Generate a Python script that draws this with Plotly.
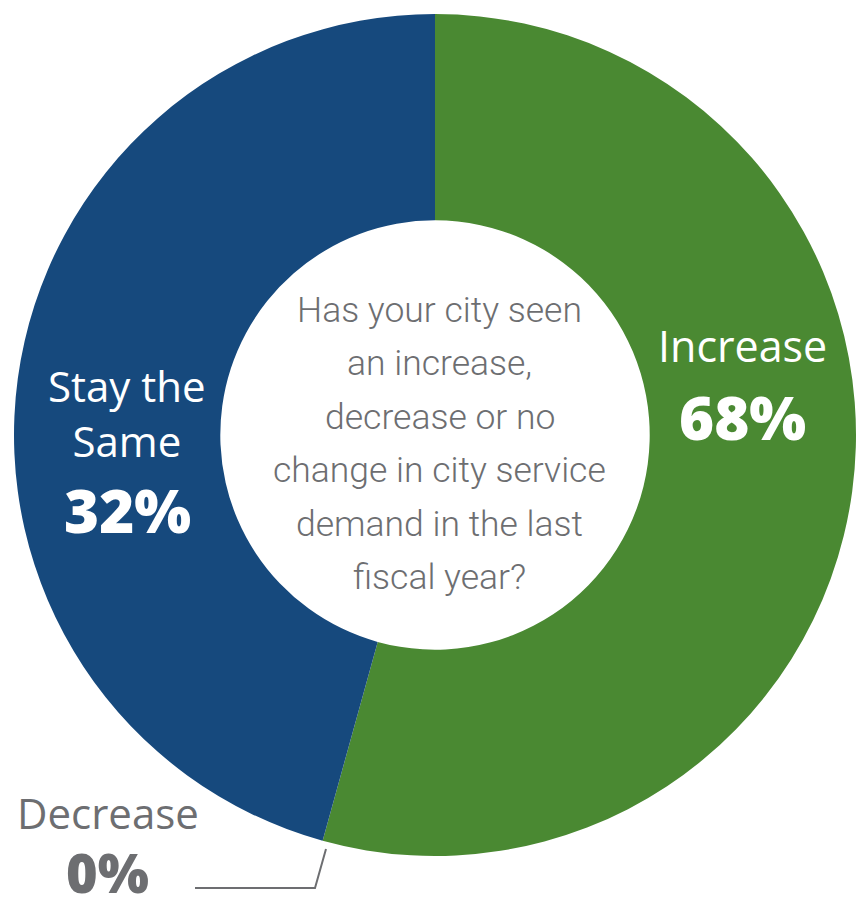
import plotly.graph_objects as go

# ---- data ----
categories = ["Increase", "Stay the Same", "Decrease"]
reported_pct = [68, 32, 0]            # percentages printed on the chart
slice_share = [54.3, 45.7, 0]         # arc share as drawn in the picture
slice_colors = ["#4a8932", "#16497d", "#6d6e71"]
question_lines = ["Has your city seen", "an increase,", "decrease or no",
                  "change in city service", "demand in the last", "fiscal year?"]

W, H = 856, 914
GRAY = "#6d6e71"

fig = go.Figure(go.Pie(
    labels=categories,
    values=slice_share,
    hole=0.51,
    sort=False,
    direction="clockwise",
    rotation=0,
    marker=dict(colors=slice_colors, line=dict(width=0)),
    textinfo="none",
    hoverinfo="label",
    showlegend=False,
    domain=dict(x=[14 / W, 1.0], y=[1 - 856 / H, 1 - 14 / H]),
))

def px(x):
    return x / W

def py(y):
    return 1 - y / H

ann = []
def add(text, x, y, size, color, weight="normal", family="Open Sans"):
    ann.append(dict(
        text=text,
        x=px(x), y=py(y), xref="paper", yref="paper",
        xanchor="center", yanchor="middle", showarrow=False,
        font=dict(family=family, size=size, color=color, weight=weight),
    ))

add(categories[0], 742, 345, 43, "white")
add(f"{reported_pct[0]}%", 742, 417, 60, "white", weight=800)
add("Stay the<br>Same", 127, 413, 42, "white")
add(f"{reported_pct[1]}%", 127, 510, 60, "white", weight=800)
add(categories[2], 108, 812, 42, GRAY)
add(f"{reported_pct[2]}%", 108, 872, 54, GRAY, weight=800)

qfont = "Roboto, sans-serif"
for i, line in enumerate(question_lines):
    add(line, 440, 310 + i * 53.4, 35.5, GRAY, weight=300, family=qfont)

fig.update_layout(
    width=W, height=H,
    margin=dict(l=0, r=0, t=0, b=0),
    paper_bgcolor="white",
    plot_bgcolor="white",
    annotations=ann,
    shapes=[
        dict(type="path", xref="paper", yref="paper",
             path=f"M {px(326)} {py(849)} L {px(315)} {py(888)} L {px(195)} {py(888)}",
             line=dict(color=GRAY, width=2)),
    ],
)

fig.write_html("out.html")
